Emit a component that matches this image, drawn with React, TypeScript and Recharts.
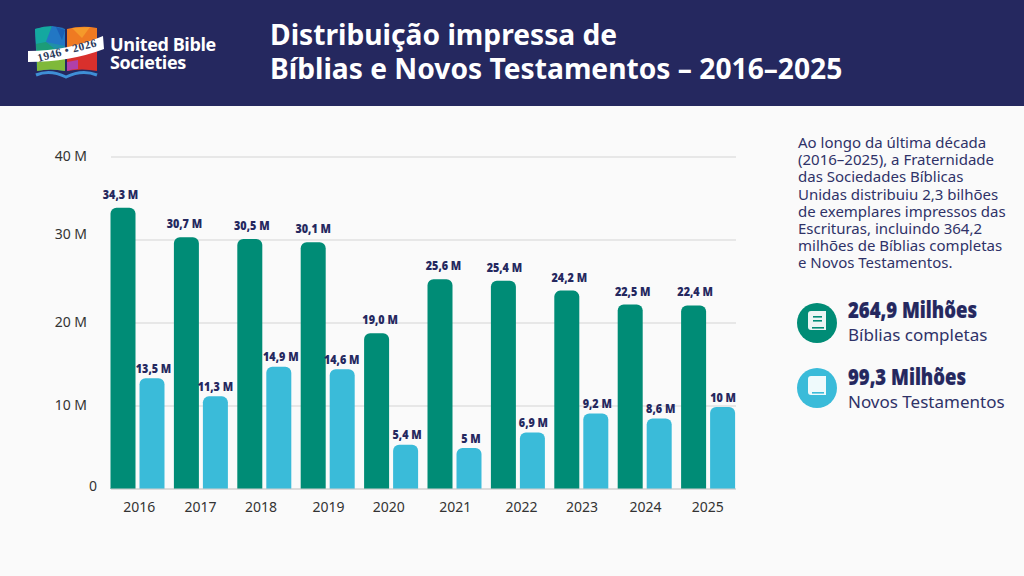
import React from "react";
import { BarChart, Bar, XAxis, YAxis, CartesianGrid, LabelList } from "recharts";

const years = ["2016", "2017", "2018", "2019", "2020", "2021", "2022", "2023", "2024", "2025"];
const biblias = [34.3, 30.7, 30.5, 30.1, 19.0, 25.6, 25.4, 24.2, 22.5, 22.4];
const novos = [13.5, 11.3, 14.9, 14.6, 5.4, 5.0, 6.9, 9.2, 8.6, 10];
const bibliaLabels = ["34,3 M", "30,7 M", "30,5 M", "30,1 M", "19,0 M", "25,6 M", "25,4 M", "24,2 M", "22,5 M", "22,4 M"];
const novosLabels = ["13,5 M", "11,3 M", "14,9 M", "14,6 M", "5,4 M", "5 M", "6,9 M", "9,2 M", "8,6 M", "10 M"];
const yTicks = [0, 10, 20, 30, 40];
const summary = [
  "Ao longo da última década",
  "(2016–2025), a Fraternidade",
  "das Sociedades Bíblicas",
  "Unidas distribuiu 2,3 bilhões",
  "de exemplares impressos das",
  "Escrituras, incluindo 364,2",
  "milhões de Bíblias completas",
  "e Novos Testamentos.",
];

const data = years.map((year, i) => ({
  year,
  biblias: biblias[i],
  novos: novos[i],
  bibliaLabel: bibliaLabels[i],
  novosLabel: novosLabels[i],
}));

const NAVY = "#25285f";
const GREEN = "#008c76";
const BLUE = "#3abbd9";
const FONT = "'Noto Sans', sans-serif";

const YTick = ({ x, y, payload }: any) => {
  const v = payload.value;
  return (
    <text x={v === 0 ? x + 54 : x + 44} y={y} dy={v === 30 ? -1 : v === 0 ? 2 : 4} textAnchor="end" fontFamily={FONT} fontSize={14} fill="#333">
      {v === 0 ? "0" : `${v} M`}
    </text>
  );
};

const tickNudge: Record<string, number> = { "2016": 2, "2018": -3, "2019": 1, "2020": -2, "2021": 1, "2022": 4, "2023": 1, "2024": 1 };

const XTick = ({ x, y, payload }: any) => (
  <text x={x + (tickNudge[payload.value] || 0)} y={y + 15} textAnchor="middle" fontFamily={FONT} fontSize={14} fill="#333">
    {payload.value}
  </text>
);

const greenNudge = [-2.5, -2, 2, 0, 3.5, 3.5, 1, 2.5, 2.5, 1.5];
const blueNudge = [1.5, 0, 2, -0.5, 1.5, 2, 1, 1.5, 1.5, 0.5];

const barLabel = (gap: number, nudge: number[]) => (props: any) => {
  const { x, y, width, value, index } = props;
  return (
    <text
      transform={`translate(${x + width / 2 + nudge[index]},${y - gap}) scale(0.83,1)`}
      textAnchor="middle"
      fontFamily={FONT}
      fontWeight={900}
      fontSize={13}
      fill={NAVY}
    >
      {value}
    </text>
  );
};

const Logo = () => (
  <svg width={200} height={106} style={{ position: "absolute", left: 20, top: 0 }} viewBox="20 0 200 106">
    <path d="M35 29 Q50 25 65 29 L65 71 Q50 68 37 71 Z" fill="#1f8fa8" />
    <path d="M35 29 Q44 26 52 26 L46 42 L36 44 Z" fill="#14a8a0" />
    <path d="M52 26 Q60 27 65 29 L65 46 L46 42 Z" fill="#2277c4" />
    <path d="M56 27 L65 30 L62 40 Z" fill="#1b5fb5" />
    <path d="M36 44 L46 42 L56 50 L37 58 Z" fill="#1c9c78" />
    <path d="M37 60 L65 56 L65 71 Q50 68 37 71 Z" fill="#7fb93a" />
    <path d="M67 29 Q82 25 97 28 L97 44 L67 52 Z" fill="#ef7a22" />
    <path d="M72 28 L90 27 L82 38 Z" fill="#f59a2a" />
    <path d="M67 50 L97 40 L97 71 Q82 68 67 71 Z" fill="#d9302c" />
    <path d="M67 62 L78 60 L78 69 Q72 69 67 71 Z" fill="#b040a8" />
    <path d="M28 51 Q68 51 103 36 L104 49 Q70 62 28 62 Z" fill="#ffffff" />
    <text transform="translate(68,54) rotate(-15)" textAnchor="middle" fontFamily="'Liberation Serif', serif" fontWeight={700} fontSize={11.5} letterSpacing={0.5} fill="#2c3a5c">
      1946 • 2026
    </text>
    <path d="M36 75 Q50 69 66 77 Q82 69 97 75" stroke="#3f8fd6" strokeWidth={3} fill="none" />
    <text x={110} y={50.5} fontFamily="'Open Sans', sans-serif" fontWeight={700} fontSize={18} letterSpacing={-0.4} fill="#fff">United Bible</text>
    <text x={110} y={69} fontFamily="'Open Sans', sans-serif" fontWeight={700} fontSize={18} letterSpacing={-0.4} fill="#fff">Societies</text>
  </svg>
);

const BookIcon = ({ cx, cy, fill, lines }: any) => (
  <g>
    <circle cx={cx} cy={cy} r={20} fill={fill} />
    <path
      d={`M${cx - 9} ${cy - 9} a3 3 0 0 1 3 -3 h15 v19 h-15 a3 3 0 0 1 -3 -3 Z`}
      fill="#fff"
      fillOpacity={0.92}
    />
    <rect x={cx - 5} y={cy + 4} width={12} height={1.6} fill={fill} />
    {lines && <rect x={cx - 4} y={cy - 7} width={9} height={1.6} fill={fill} />}
    {lines && <rect x={cx - 4} y={cy - 3} width={9} height={1.6} fill={fill} />}
  </g>
);

const Stats = () => (
  <svg width={1024} height={576} style={{ position: "absolute", left: 0, top: 0, pointerEvents: "none" }}>
    <BookIcon cx={817} cy={323} fill={GREEN} lines />
    <BookIcon cx={817} cy={388} fill={BLUE} />
    <text x={848} y={318} textLength={129} lengthAdjust="spacingAndGlyphs" fontFamily={FONT} fontWeight={900} fontSize={22} fill={NAVY} stroke={NAVY} strokeWidth={0.2}>264,9 Milhões</text>
    <text x={848} y={341} fontFamily={FONT} fontSize={17} fill="#2f3268">Bíblias completas</text>
    <text x={848} y={385} textLength={118} lengthAdjust="spacingAndGlyphs" fontFamily={FONT} fontWeight={900} fontSize={22} fill={NAVY} stroke={NAVY} strokeWidth={0.2}>99,3 Milhões</text>
    <text x={848} y={408} fontFamily={FONT} fontSize={17} fill="#2f3268">Novos Testamentos</text>
    {summary.map((line, i) => (
      <text key={line} x={798} y={148 + i * 17.2} fontFamily={FONT} fontSize={15} fill="#2f3268">{line}</text>
    ))}
  </svg>
);

export default function App() {
  return (
    <div style={{ position: "absolute", left: 0, top: 0, width: 1024, height: 576, background: "#fafafa", overflow: "hidden" }}>
      <div style={{ position: "absolute", left: 0, top: 0, width: 1024, height: 106, background: NAVY }} />
      <Logo />
      <div style={{ position: "absolute", left: 270, top: 17, color: "#fff", fontFamily: FONT, fontWeight: 700, fontSize: 28.2, lineHeight: "34px", whiteSpace: "nowrap" }}>
        Distribuição impressa de
        <br />
        Bíblias e Novos Testamentos – 2016–2025
      </div>
      <div style={{ position: "absolute", left: 0, top: 0 }}>
        <BarChart
          width={1024}
          height={576}
          data={data}
          margin={{ top: 157, left: 51, right: 288, bottom: 57 }}
          barCategoryGap={9}
          barGap={4}
          barSize={25}
        >
          <CartesianGrid vertical={false} stroke="#d4d4d4" yAxisId="grid" />
          <XAxis
            dataKey="year"
            height={30}
            padding={{ left: -5.5, right: -3.5 }}
            tick={<XTick />}
            tickLine={false}
            axisLine={{ stroke: "#cfcfcf" }}
            interval={0}
          />
          <YAxis yAxisId="grid" width={60} type="number" domain={[0, 40]} allowDataOverflow ticks={yTicks} tick={<YTick />} tickLine={false} axisLine={false} interval={0} />
          <YAxis yAxisId="bars" hide type="number" domain={[0, 40.5]} allowDataOverflow />
          <Bar yAxisId="bars" dataKey="biblias" fill={GREEN} radius={[6, 6, 0, 0]} isAnimationActive={false}>
            <LabelList dataKey="bibliaLabel" content={barLabel(9, greenNudge)} />
          </Bar>
          <Bar yAxisId="bars" dataKey="novos" fill={BLUE} radius={[6, 6, 0, 0]} isAnimationActive={false}>
            <LabelList dataKey="novosLabel" content={barLabel(5.5, blueNudge)} />
          </Bar>
        </BarChart>
      </div>
      <Stats />
    </div>
  );
}
